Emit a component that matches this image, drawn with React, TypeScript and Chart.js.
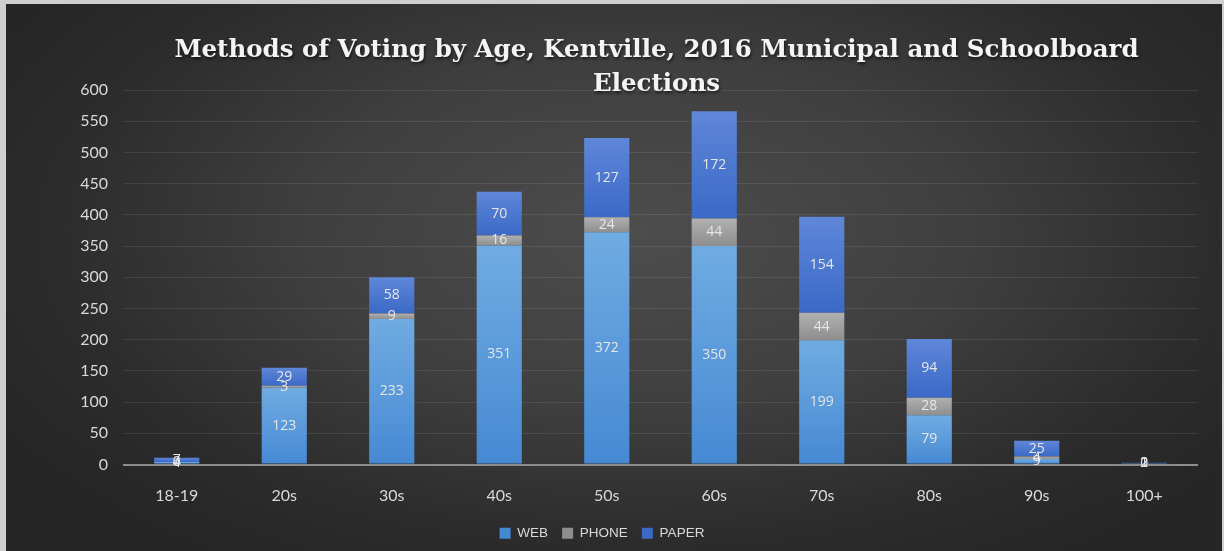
import React, { useEffect, useRef } from "react";
import { Chart, registerables } from "chart.js";

Chart.register(...registerables);

const categories = ["18-19", "20s", "30s", "40s", "50s", "60s", "70s", "80s", "90s", "100+"];
const webVotes = [4, 123, 233, 351, 372, 350, 199, 79, 9, 2];
const phoneVotes = [0, 3, 9, 16, 24, 44, 44, 28, 4, 0];
const paperVotes = [7, 29, 58, 70, 127, 172, 154, 94, 25, 1];
const titleLines = ["Methods of Voting by Age, Kentville, 2016 Municipal and Schoolboard", "Elections"];

const stacks = [webVotes, phoneVotes, paperVotes];

function segGradient(ctx: any, dsIndex: number, top: string, bottom: string) {
  const chart = ctx.chart;
  const y = chart.scales && chart.scales.y;
  if (!y || ctx.type !== "data") return bottom;
  const i = ctx.dataIndex;
  let start = 0;
  for (let d = 0; d < dsIndex; d++) start += stacks[d][i];
  const end = start + stacks[dsIndex][i];
  const y0 = y.getPixelForValue(start);
  const y1 = y.getPixelForValue(end);
  if (!isFinite(y0) || !isFinite(y1) || Math.abs(y0 - y1) < 1) return bottom;
  const g = chart.ctx.createLinearGradient(0, y1, 0, y0);
  g.addColorStop(0, top);
  g.addColorStop(1, bottom);
  return g;
}

const valueLabels = {
  id: "valueLabels",
  afterDatasetsDraw(chart: any) {
    const ctx = chart.ctx;
    ctx.save();
    ctx.font = "14px 'Open Sans', 'Liberation Sans', sans-serif";
    ctx.fillStyle = "#e6e6e6";
    ctx.textAlign = "center";
    ctx.textBaseline = "middle";
    chart.data.datasets.forEach((ds: any, di: number) => {
      const meta = chart.getDatasetMeta(di);
      meta.data.forEach((el: any, i: number) => {
        const v = ds.data[i];
        const cy = (el.y + el.base) / 2;
        ctx.fillText(String(v), el.x, cy);
      });
    });
    ctx.restore();
  },
};

const customTitle = {
  id: "customTitle",
  afterDraw(chart: any) {
    const ctx = chart.ctx;
    const ca = chart.chartArea;
    const cx = (ca.left + ca.right) / 2 - 4;
    ctx.save();
    ctx.font = "bold 24.5px 'DejaVu Serif', serif";
    ctx.fillStyle = "#f4f4f4";
    ctx.textAlign = "center";
    ctx.textBaseline = "middle";
    ctx.shadowColor = "rgba(0,0,0,0.6)";
    ctx.shadowOffsetX = 1;
    ctx.shadowOffsetY = 2;
    ctx.shadowBlur = 3;
    titleLines.forEach((t, k) => {
      ctx.fillText(t, cx, 47 + k * 34);
    });
    ctx.restore();
  },
};

export default function App() {
  const ref = useRef<HTMLCanvasElement | null>(null);

  useEffect(() => {
    document.body.style.margin = "0";
    const canvas = ref.current;
    if (!canvas) return;
    const chart = new Chart(canvas, {
      type: "bar",
      data: {
        labels: categories,
        datasets: [
          {
            label: "WEB",
            data: webVotes,
            backgroundColor: (c: any) => segGradient(c, 0, "#70abe2", "#4689d3"),
            borderWidth: 0,
          },
          {
            label: "PHONE",
            data: phoneVotes,
            backgroundColor: (c: any) => segGradient(c, 1, "#b0b0b0", "#8e8e8e"),
            borderWidth: 0,
          },
          {
            label: "PAPER",
            data: paperVotes,
            backgroundColor: (c: any) => segGradient(c, 2, "#5f87d9", "#3b69c6"),
            borderWidth: 0,
          },
        ],
      },
      options: {
        animation: false,
        responsive: false,
        maintainAspectRatio: false,
        devicePixelRatio: 1,
        layout: { padding: { top: 86, right: 24, bottom: 1, left: 0 } },
        datasets: { bar: { categoryPercentage: 0.42, barPercentage: 1 } },
        scales: {
          x: {
            stacked: true,
            grid: { display: false },
            border: { display: false },
            ticks: {
              color: "#d9d9d9",
              font: { family: "Lato, 'Open Sans', sans-serif", size: 16 },
              padding: 14,
            },
            afterFit: (s: any) => {
              s.height = 48;
            },
          },
          y: {
            stacked: true,
            min: 0,
            max: 600,
            border: { display: false },
            grid: {
              drawTicks: false,
              color: (c: any) => (c.tick && c.tick.value === 0 ? "#8c8c8c" : "rgba(255,255,255,0.09)"),
              lineWidth: (c: any) => (c.tick && c.tick.value === 0 ? 2 : 1),
            },
            ticks: {
              stepSize: 50,
              color: "#d9d9d9",
              font: { family: "Lato, 'Open Sans', sans-serif", size: 16 },
              padding: 15,
            },
            afterFit: (s: any) => {
              s.width = 117;
            },
          },
        },
        plugins: {
          title: { display: false },
          tooltip: { enabled: false },
          legend: {
            position: "bottom",
            labels: {
              color: "#d9d9d9",
              boxWidth: 11,
              boxHeight: 11,
              padding: 14,
              font: { family: "'Liberation Sans', 'Open Sans', sans-serif", size: 13.5 },
            },
          },
        },
      },
      plugins: [valueLabels, customTitle],
    });
    return () => chart.destroy();
  }, []);

  return (
    <div style={{ width: 1224, height: 551, background: "#cfcfcf", position: "relative", overflow: "hidden" }}>
      <div
        style={{
          position: "absolute",
          left: 6,
          top: 4,
          width: 1216,
          height: 547,
          background:
            "radial-gradient(ellipse 60% 70% at 52% 42%, #4d4d4d 0%, #3f3f3f 45%, #2c2c2c 80%, #262626 100%)",
        }}
      >
        <canvas ref={ref} width={1216} height={547} style={{ display: "block", width: 1216, height: 547 }} />
      </div>
    </div>
  );
}
